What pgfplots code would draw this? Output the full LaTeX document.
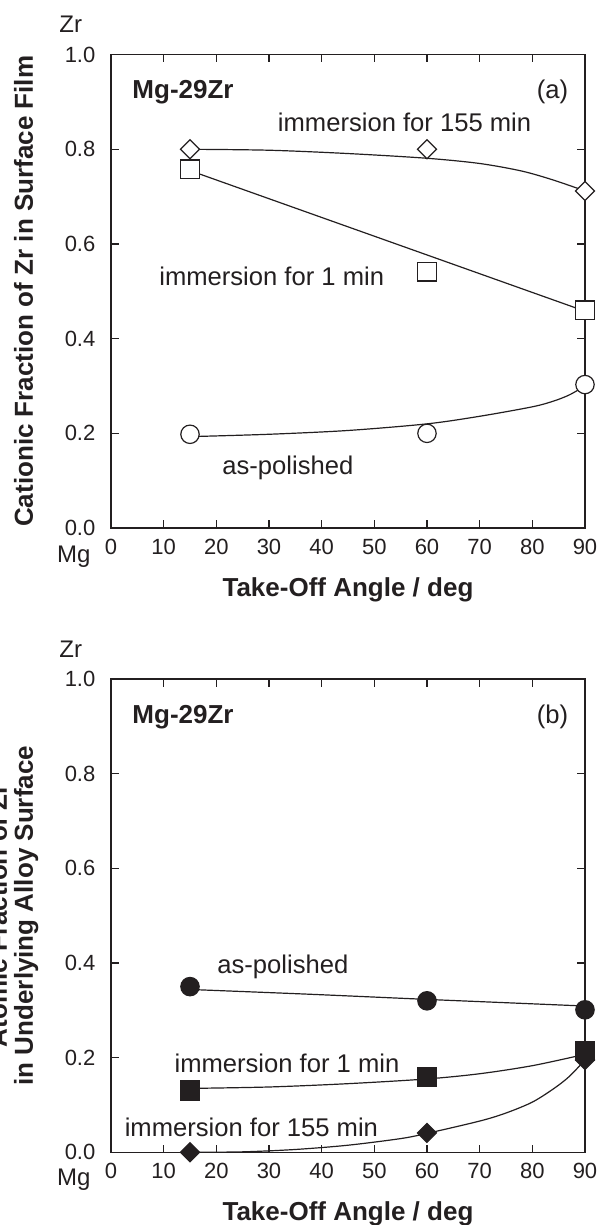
\documentclass[border=0pt]{standalone}
\usepackage{pgfplots}
\pgfplotsset{compat=1.18}
\usepackage{fontspec}
\setmainfont{Liberation Sans}
\definecolor{ink}{HTML}{231F20}
\begin{document}
\begin{tikzpicture}
\tikzset{txt/.style={font=\fontsize{12.8}{15}\selectfont, text=ink, inner sep=0pt}}
\pgfplotsset{
  panel/.style={
    scale only axis, width=237pt, height=236.7pt,
    xmin=0, xmax=90, ymin=0, ymax=1,
    xtick={0,10,20,30,40,50,60,70,80,90},
    ytick={0,0.2,0.4,0.6,0.8,1.0},
    tick align=inside, major tick length=3.8pt,
    axis line style={line width=0.6pt, ink},
    every tick/.style={line width=0.6pt, ink},
    /pgf/number format/assume math mode=true,
    ticklabel style={font=\fontsize{11}{13}\selectfont, text=ink},
    yticklabel style={/pgf/number format/fixed, /pgf/number format/fixed zerofill, /pgf/number format/precision=1, xshift=-4.3pt},
    xticklabel style={yshift=-1.8pt},
    xlabel={Take-Off Angle / deg},
    xlabel style={font=\bfseries\fontsize{13}{15}\selectfont, text=ink, at={(axis description cs:0.5,0)}, anchor=center, yshift=-31pt},
    clip=false,
  },
  curve/.style={line width=0.6pt, ink, no marks},
}

% ---------------- panel (a)
\begin{axis}[panel, at={(55.5pt,-264pt)}, anchor=south west,
  ylabel={Cationic Fraction of Zr in Surface Film},
  ylabel style={font=\bfseries\fontsize{13}{15}\selectfont, text=ink, at={(axis description cs:-0.1646,0.5)}, anchor=base},
]
\addplot[curve, smooth] coordinates {(15,0.800)(30,0.798)(45,0.791)(60,0.781)(70,0.770)(78,0.754)(84,0.735)(90,0.712)};
\addplot[curve] coordinates {(15,0.755)(90,0.458)};
\addplot[curve, smooth] coordinates {(15,0.193)(30,0.198)(45,0.206)(60,0.220)(70,0.236)(80,0.256)(84,0.268)(87,0.281)(90,0.300)};
\addplot[only marks, mark=square*, mark size=3.36pt, mark options={rotate=45, fill=white, draw=ink, line width=0.6pt}] coordinates {(15,0.800)(60,0.800)(90,0.712)};
\addplot[only marks, mark=square*, mark size=4.6pt, mark options={fill=white, draw=ink, line width=0.6pt}] coordinates {(15,0.758)(60,0.541)(90,0.460)};
\addplot[only marks, mark=*, mark size=4.6pt, mark options={fill=white, draw=ink, line width=0.6pt}] coordinates {(15,0.198)(60,0.200)(90,0.303)};
\node[txt, font=\bfseries\fontsize{13}{15}\selectfont, anchor=west] at (axis cs:4.0,0.921) {Mg-29Zr};
\node[txt, anchor=east] at (axis cs:86.87,0.921) {(a)};
\node[txt, anchor=west] at (axis cs:31.63,0.857) {immersion for 155 min};
\node[txt, anchor=west] at (axis cs:9.1,0.532) {immersion for 1 min};
\node[txt, anchor=west] at (axis cs:21.08,0.127) {as-polished};
\end{axis}

% ---------------- panel (b)
\begin{axis}[panel, at={(55.5pt,-576.15pt)}, anchor=south west,
  ylabel={Atomic Fraction of Zr\\in Underlying Alloy Surface},
  ylabel style={font=\bfseries\fontsize{13}{13}\selectfont, text=ink, align=center, at={(axis description cs:-0.2063,0.5)}, anchor=center},
]
\addplot[curve, smooth] coordinates {(15,0.344)(37.5,0.334)(60,0.323)(75,0.316)(90,0.309)};
\addplot[curve, smooth] coordinates {(15,0.135)(30,0.138)(45,0.145)(60,0.155)(70,0.166)(80,0.183)(90,0.207)};
\addplot[curve, smooth] coordinates {(15,0.000)(25,0.001)(35,0.006)(45,0.015)(55,0.029)(60,0.040)(70,0.066)(75,0.083)(80,0.106)(84,0.134)(87,0.160)(90,0.195)};
\addplot[only marks, mark=square*, mark size=3.36pt, mark options={rotate=45, fill=ink, draw=ink, line width=0.6pt}] coordinates {(15,0.000)(60,0.041)(90,0.195)};
\addplot[only marks, mark=square*, mark size=4.8pt, mark options={fill=ink, draw=ink, line width=0.6pt}] coordinates {(15,0.131)(60,0.159)(90,0.2135)};
\addplot[only marks, mark=*, mark size=4.6pt, mark options={fill=ink, draw=ink, line width=0.6pt}] coordinates {(15,0.350)(60,0.320)(90,0.301)};
\node[txt, font=\bfseries\fontsize{13}{15}\selectfont, anchor=west] at (axis cs:4.0,0.920) {Mg-29Zr};
\node[txt, anchor=east] at (axis cs:86.87,0.920) {(b)};
\node[txt, anchor=west] at (axis cs:20.13,0.3915) {as-polished};
\node[txt, anchor=west] at (axis cs:12.0,0.1887) {immersion for 1 min};
\node[txt, anchor=west] at (axis cs:2.54,0.0535) {immersion for 155 min};
\end{axis}

\node[font=\fontsize{12}{14}\selectfont, text=ink] at (35.35pt,-12pt) {Zr};
\node[font=\fontsize{12}{14}\selectfont, text=ink] at (36.85pt,-278.35pt) {Mg};
\node[font=\fontsize{12}{14}\selectfont, text=ink] at (35.35pt,-324.65pt) {Zr};
\node[font=\fontsize{12}{14}\selectfont, text=ink] at (36.85pt,-590pt) {Mg};

\pgfresetboundingbox
\useasboundingbox (0pt,0pt) rectangle (300pt,-612.5pt);
\end{tikzpicture}
\end{document}
